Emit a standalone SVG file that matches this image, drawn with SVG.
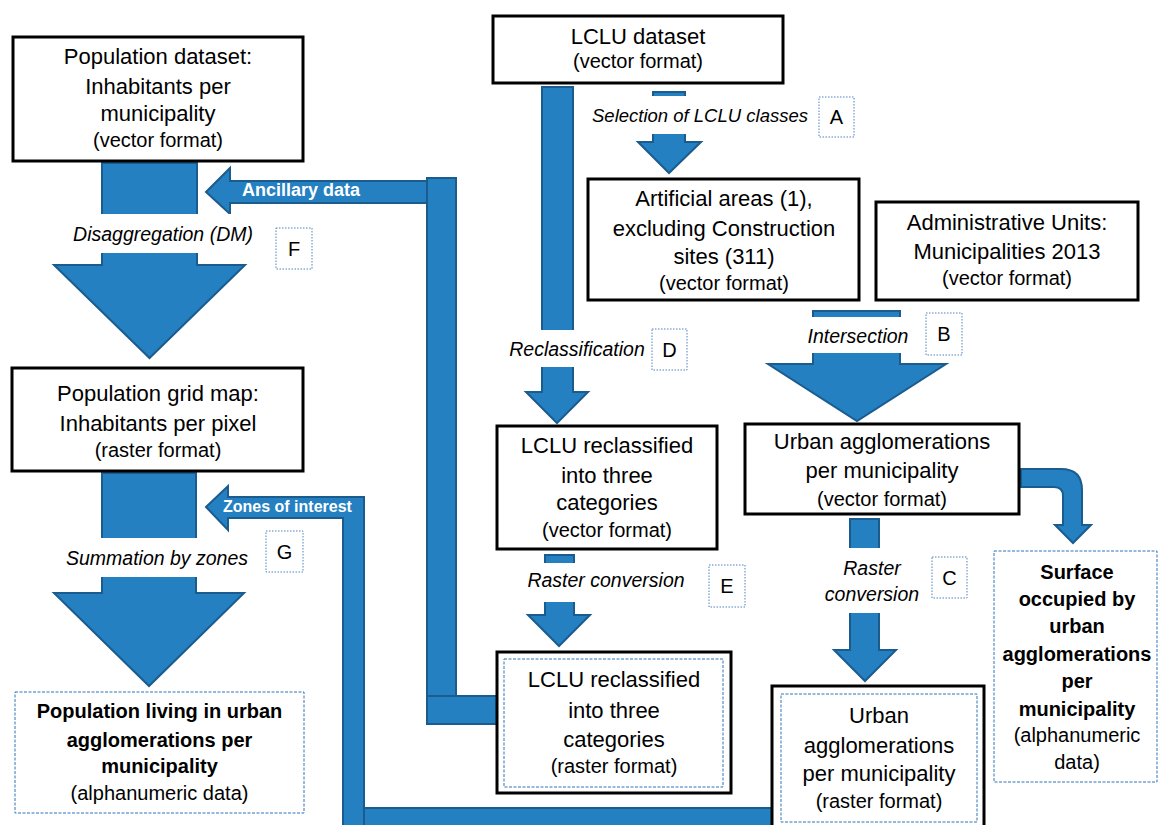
<svg xmlns="http://www.w3.org/2000/svg" width="1159" height="825" viewBox="0 0 1159 825">
<style>
text{font-family:"Liberation Sans",Arial,sans-serif;fill:#000}
.m{font-size:22px;text-anchor:middle}
.s{font-size:20px;text-anchor:middle}
.b{font-size:20px;font-weight:bold;text-anchor:middle}
.i{font-size:19.5px;font-style:italic;text-anchor:middle}
.l{font-size:20px;text-anchor:middle}
.w{font-weight:bold;fill:#fff}
.box{fill:#fff;stroke:#000;stroke-width:3}
.dot{fill:#fff;stroke:#2E75B6;stroke-width:1;stroke-dasharray:3,1.5}
.in{fill:none;stroke:#2E75B6;stroke-width:1;stroke-dasharray:3,1.5}
.lab{fill:#fff;stroke:#4F81BD;stroke-width:1;stroke-dasharray:1.5,1.5}
.ar{fill:#2480C1;stroke:#1B5C8F;stroke-width:2;stroke-linejoin:miter}
.wh{fill:#fff;stroke:none}
</style>
<g id="connectors">
<polygon class="ar" points="653,92 685,92 685,142 701,142 669,173 638,142 653,142"/>
<polygon class="ar" points="542,87 573,87 573,392 588,392 557,423 526,392 542,392"/>
<polygon class="ar" points="102,163 197,163 197,265 245,265 149.5,358 54,265 102,265"/>
<polygon class="ar" points="102,473 196,473 196,593 244,593 149,686 54,593 102,593"/>
<polygon class="ar" points="813,311 900,311 900,364 946,364 857,421 768,364 813,364"/>
<polygon class="ar" points="545,555 574,555 574,615 590,615 559,646 528,615 545,615"/>
<polygon class="ar" points="850,519 879,519 879,650 896,650 865,681 834,650 850,650"/>
<path class="ar" d="M1021,469 L1061,469 Q1082,469 1082,490 L1082,525 L1091,525 L1073,543 L1055,525 L1063,525 L1063,496 Q1063,487 1054,487 L1021,487 Z"/>
<polygon class="ar" points="206,192 230,168 230,181 430,181 430,203 230,203 230,214"/>
<rect class="ar" x="427" y="178" width="29" height="546"/>
<rect class="ar" x="427" y="696" width="70" height="28"/>
<rect class="ar" x="343" y="808" width="429" height="30"/>
<polygon class="ar" points="206,507 228,486 228,497 364,497 364,840 343,840 343,518 228,518 228,530"/>
<rect class="wh" x="630" y="96" width="80" height="38"/>
<rect class="wh" x="520" y="330" width="60" height="37"/>
<rect class="wh" x="50" y="214" width="200" height="39"/>
<rect class="wh" x="50" y="538" width="200" height="39"/>
<rect class="wh" x="780" y="317" width="140" height="36"/>
<rect class="wh" x="520" y="563" width="170" height="39"/>
<rect class="wh" x="800" y="548" width="125" height="65"/>
<text x="242" y="196" class="w" style="font-size:18px">Ancillary data</text>
<text x="223" y="512" class="w" style="font-size:16px">Zones of interest</text>
<text x="700" y="122" class="i" style="font-size:18.5px">Selection of LCLU classes</text>
<text x="577" y="356" class="i">Reclassification</text>
<text x="163" y="241" class="i">Disaggregation (DM)</text>
<text x="157" y="565" class="i">Summation by zones</text>
<text x="858" y="343" class="i">Intersection</text>
<text x="606" y="587" class="i">Raster conversion</text>
<text x="872" y="575" class="i">Raster</text>
<text x="872" y="601" class="i">conversion</text>
</g>
<g id="labA"><rect class="lab" x="819" y="97" width="35" height="40"/><text x="836.5" y="124" class="l">A</text></g>
<g id="labB"><rect class="lab" x="926" y="313" width="36" height="42"/><text x="944" y="341" class="l">B</text></g>
<g id="labC"><rect class="lab" x="932" y="557" width="35" height="41"/><text x="949.5" y="585" class="l">C</text></g>
<g id="labD"><rect class="lab" x="652" y="329" width="35" height="41"/><text x="669.5" y="357" class="l">D</text></g>
<g id="labE"><rect class="lab" x="709" y="565" width="36" height="42"/><text x="727" y="593" class="l">E</text></g>
<g id="labF"><rect class="lab" x="276" y="228" width="36" height="41"/><text x="294" y="256" class="l">F</text></g>
<g id="labG"><rect class="lab" x="266" y="531" width="37" height="41"/><text x="284.5" y="559" class="l">G</text></g>
<g id="popDataset">
<rect class="box" x="13" y="37" width="290" height="124"/>
<text x="158" y="64" class="m">Population dataset:</text>
<text x="158" y="94" class="m">Inhabitants per</text>
<text x="158" y="121" class="m">municipality</text>
<text x="158" y="147" class="s">(vector format)</text>
</g>
<g id="lcluDataset">
<rect class="box" x="493" y="16" width="290" height="67"/>
<text x="638" y="44" class="m">LCLU dataset</text>
<text x="638" y="68" class="s">(vector format)</text>
</g>
<g id="artificial">
<rect class="box" x="588" y="179" width="271" height="121"/>
<text x="724" y="206" class="m">Artificial areas (1),</text>
<text x="724" y="236" class="m">excluding Construction</text>
<text x="724" y="264" class="m">sites (311)</text>
<text x="724" y="290" class="s">(vector format)</text>
</g>
<g id="adminUnits">
<rect class="box" x="876" y="202" width="262" height="98"/>
<text x="1007" y="230" class="m">Administrative Units:</text>
<text x="1007" y="259" class="m">Municipalities 2013</text>
<text x="1007" y="285" class="s">(vector format)</text>
</g>
<g id="popGrid">
<rect class="box" x="12" y="368" width="291" height="103"/>
<text x="158" y="401" class="m">Population grid map:</text>
<text x="158" y="431" class="m">Inhabitants per pixel</text>
<text x="158" y="457" class="s">(raster format)</text>
</g>
<g id="lcluVector">
<rect class="box" x="497" y="426" width="220" height="123"/>
<text x="607" y="453" class="m">LCLU reclassified</text>
<text x="607" y="483" class="m">into three</text>
<text x="607" y="510" class="m">categories</text>
<text x="607" y="537" class="s">(vector format)</text>
</g>
<g id="urbanVector">
<rect class="box" x="745" y="424" width="274" height="90"/>
<text x="882" y="449" class="m">Urban agglomerations</text>
<text x="882" y="478" class="m">per municipality</text>
<text x="882" y="506" class="s">(vector format)</text>
</g>
<g id="surface">
<rect class="dot" x="994" y="551" width="163" height="231"/>
<text x="1077" y="579" class="b">Surface</text>
<text x="1077" y="606" class="b">occupied by</text>
<text x="1077" y="633" class="b">urban</text>
<text x="1077" y="661" class="b">agglomerations</text>
<text x="1077" y="688" class="b">per</text>
<text x="1077" y="716" class="b">municipality</text>
<text x="1077" y="742" class="s">(alphanumeric</text>
<text x="1077" y="769" class="s">data)</text>
</g>
<g id="lcluRaster">
<rect class="box" x="497" y="652" width="234" height="141"/>
<rect class="in" x="504" y="659" width="219" height="128"/>
<text x="614" y="687" class="m">LCLU reclassified</text>
<text x="614" y="718" class="m">into three</text>
<text x="614" y="747" class="m">categories</text>
<text x="614" y="773" class="s">(raster format)</text>
</g>
<g id="urbanRaster">
<rect class="box" x="772" y="686" width="212" height="150"/>
<rect class="in" x="781" y="694" width="196" height="128"/>
<text x="879" y="723" class="m">Urban</text>
<text x="879" y="753" class="m">agglomerations</text>
<text x="879" y="781" class="m">per municipality</text>
<text x="879" y="808" class="s">(raster format)</text>
</g>
<g id="popLiving">
<rect class="dot" x="15" y="692" width="289" height="121"/>
<text x="159.5" y="718" class="b">Population living in urban</text>
<text x="159.5" y="747" class="b">agglomerations per</text>
<text x="159.5" y="773" class="b">municipality</text>
<text x="159.5" y="800" class="s">(alphanumeric data)</text>
</g>
</svg>
